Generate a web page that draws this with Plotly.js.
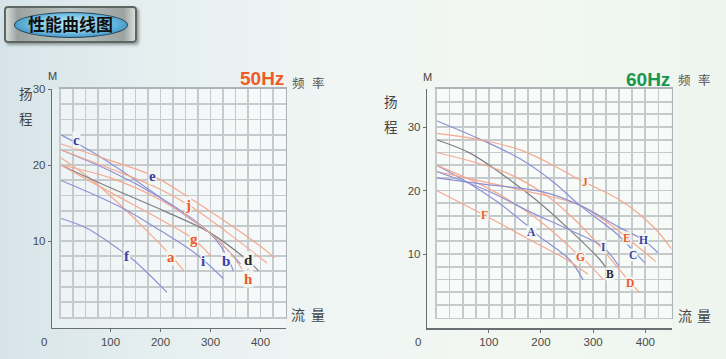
<!DOCTYPE html>
<html><head><meta charset="utf-8">
<script src="https://cdn.plot.ly/plotly-3.0.1.min.js"></script>
<style>
html,body{margin:0;padding:0;}
body{width:726px;height:359px;overflow:hidden;position:relative;
 background:linear-gradient(90deg,#d6e4e9 0%,#e6eff0 22%,#eff5f3 45%,#f2f7f2 70%,#eef5ef 100%);}
#chart{position:absolute;left:0;top:0;width:726px;height:359px;}
#badge{position:absolute;left:4px;top:6px;width:133px;height:37px;border-radius:4px;
 background:linear-gradient(90deg,#e4e9e7 0%,#9aa3a0 10%,#b9c1be 50%,#9aa3a0 90%,#e4e9e7 100%);
 box-shadow:inset 0 0 0 2px #5d6663, 2px 2px 3px rgba(0,0,0,0.35);z-index:2;}
#badge .ell{position:absolute;left:10px;top:6px;width:112px;height:24px;border-radius:50%;
 background:radial-gradient(ellipse at 50% 45%,#c8eefa 0%,#7cc6e6 45%,#2f86bd 85%,#1f5f8e 100%);border:1px solid #27475c;}
#badge .txt{position:absolute;left:0;top:0;width:133px;height:37px;line-height:36px;text-align:center;
 font-family:"Noto Sans CJK SC",sans-serif;font-weight:bold;font-size:17px;color:#111;}
</style></head>
<body>
<div id="chart"></div>
<div id="badge"><div class="ell"></div><div class="txt">性能曲线图</div></div>
<script>
// ---------- 50Hz data (flow, head) ----------
const a50_q=[0,60,122,175,205,247], a50_h=[21,18.2,14.6,11.2,9.2,6.1];
const b50_q=[0,100,200,260,296,322,346], b50_h=[22,19.2,15.7,13.1,11.2,9.2,6.1];
const c50_q=[0,40,79,146,206,260,296,330,360], c50_h=[24,22.6,21.1,18.2,15.4,12.9,11.2,9.1,7.0];
const d50_q=[0,100,209,296,366,396], d50_h=[20,17.0,13.9,11.2,7.9,6.1];
const e50_q=[0,90,184,260,340,400,428], e50_h=[22.8,20.8,18.6,15.6,12.1,9.3,7.8];
const f50_q=[0,52,119,146,213], f50_h=[13,11.7,8.8,7.5,3.25];
const g50_q=[0,100,209,267,301], g50_h=[20,16.4,12.5,10.2,8.0];
const h50_q=[0,100,200,296,340,363], h50_h=[20,18.3,15.4,11.2,8.4,6.3];
const i50_q=[0,119,199,273,325], i50_h=[18,14.5,11.4,8.2,5.1];
const j50_q=[0,100,190,255,330,413], j50_h=[22,19.5,17.1,14.8,11.3,7.1];
const labels50=['a','b','c','d','e','f','g','h','i','j'];
const labelQ50=[221,331,32,376,184,132,267,376,285,255];
const labelH50=[7.9,7.4,23.3,7.5,18.5,8.0,10.2,5.0,7.4,14.7];

// ---------- 60Hz data (flow, head) ----------
const A60_q=[0,51,115,172,195,255,281], A60_h=[24,21.7,18.3,14.6,12.9,9.1,5.9];
const B60_q=[0,64,127,191,255,313,325], B60_h=[28,25.9,22.5,18.5,13.8,9.1,7.8];
const C60_q=[0,83,160,226,274,345,376,399], C60_h=[31,28.1,25,21.2,17.7,13.2,10.6,8.6];
const D60_q=[0,128,204,260,310,364,389], D60_h=[26,23,19.6,15.8,11.5,6.2,3.9];
const E60_q=[0,100,200,274,330,364,420], E60_h=[23,21.2,19.4,17.7,14.8,12.6,8.8];
const F60_q=[0,92,191,250,290], F60_h=[20,16.1,11.7,9.1,6.8];
const G60_q=[0,100,180,230,262,287,319], G60_h=[24,20.3,16.3,13,10.6,8.8,6.0];
const H60_q=[0,89,204,274,350,396,424], H60_h=[22,21,19.8,17.7,14.2,12.2,10.2];
const I60_q=[0,100,180,260,319,350], I60_h=[23,19.9,16.6,13.6,11.1,8.0];
const J60_q=[0,83,160,223,274,351,415,450], J60_h=[29,28,26.4,24,21.7,18.5,14.3,10.8];
const labels60=['A','B','C','D','E','F','G','H','I','J'];
const labelQ60=[181,332,376.5,370,364,92.5,276,396,319,285];
const labelH60=[13.4,6.8,9.8,5.4,12.6,16.1,9.5,12.2,11.1,21.3];

const xTicks=[100,200,300,400];
const yTicks50=[10,20,30];
const yTicks60=[10,20,30];

// ---------- styles ----------
const ORG='#f0845e', BLU='#5c62c4', GRY='#4a4a4a';
const ORGt='#f05a28', BLUt='#3a3fa6', GRYt='#2a2a2a';
const kind50={a:'o',b:'b',c:'b',d:'g',e:'b',f:'b',g:'o',h:'o',i:'b',j:'o'};
const line50={a:'o',b:'b',c:'b',d:'g',e:'o',f:'b',g:'o',h:'o',i:'b',j:'o'};
const kind60={A:'b',B:'g',C:'b',D:'o',E:'o',F:'o',G:'o',H:'b',I:'b',J:'o'};
const lc={o:ORG,b:BLU,g:GRY}, tc={o:ORGt,b:BLUt,g:GRYt};

const series50={a:[a50_q,a50_h],b:[b50_q,b50_h],c:[c50_q,c50_h],d:[d50_q,d50_h],e:[e50_q,e50_h],
 f:[f50_q,f50_h],g:[g50_q,g50_h],h:[h50_q,h50_h],i:[i50_q,i50_h],j:[j50_q,j50_h]};
const series60={A:[A60_q,A60_h],B:[B60_q,B60_h],C:[C60_q,C60_h],D:[D60_q,D60_h],E:[E60_q,E60_h],
 F:[F60_q,F60_h],G:[G60_q,G60_h],H:[H60_q,H60_h],I:[I60_q,I60_h],J:[J60_q,J60_h]};

const traces=[];
for(const k of labels50){
  traces.push({x:series50[k][0],y:series50[k][1],xaxis:'x',yaxis:'y',mode:'lines',
    line:{color:lc[line50[k]],width:1.2,shape:'spline',smoothing:1},showlegend:false,hoverinfo:'skip'});
}
for(const k of labels60){
  traces.push({x:series60[k][0],y:series60[k][1],xaxis:'x2',yaxis:'y2',mode:'lines',
    line:{color:lc[kind60[k]],width:1.2,shape:'spline',smoothing:1},showlegend:false,hoverinfo:'skip'});
}
// helper traces for the offset axis lines
traces.push({x:[null],y:[null],xaxis:'x3',yaxis:'y3',mode:'lines',showlegend:false,hoverinfo:'skip'});
traces.push({x:[null],y:[null],xaxis:'x4',yaxis:'y4',mode:'lines',showlegend:false,hoverinfo:'skip'});

const W=726,H=359;
const fx=p=>p/W, fy=p=>1-p/H;
const step=(a,b,s)=>{const r=[];for(let v=a;v<=b+1e-9;v+=s)r.push(v);return r;};
const GRID='#adb3b8';
const gridAx=(dom,range,dt,anchor)=>({domain:dom,range:range,anchor:anchor,tickmode:'array',tickvals:step(range[0],range[1],dt),
  showticklabels:false,ticks:'',showgrid:true,gridcolor:GRID,gridwidth:1.8,zeroline:false,
  showline:true,mirror:true,linecolor:GRID,linewidth:1.8,fixedrange:true});
const lineAx=(dom,range,vals,anchor)=>({domain:dom,range:range,anchor:anchor,tickmode:'array',tickvals:vals,
  showgrid:false,zeroline:false,showline:true,linecolor:'#6a6f72',linewidth:1.2,ticks:'outside',ticklen:3,
  tickcolor:'#6a6f72',tickfont:{family:'Liberation Sans, Arial',size:11.5,color:'#4a4a4a'},fixedrange:true});

const ann=[];
function addLabels(names,qs,hs,kinds,xr,yr,font,size,bold){
  names.forEach((n,i)=>ann.push({x:qs[i],y:hs[i],xref:xr,yref:yr,text:bold?'<b>'+n+'</b>':n,showarrow:false,
    font:{family:font,size:size,color:tc[kinds[n]]},bgcolor:'#f1f6f3',borderpad:0}));
}
addLabels(labels50,labelQ50,labelH50,kind50,'x','y','Liberation Serif, Times New Roman',15,true);
addLabels(labels60,labelQ60,labelH60,kind60,'x2','y2','Liberation Serif, Times New Roman',11.5,true);

const txt=(t,x,y,size,color,bold,family)=>ann.push({text:bold?'<b>'+t+'</b>':t,x:fx(x),y:fy(y),xref:'paper',yref:'paper',
  showarrow:false,font:{size:size,color:color,family:family||'Noto Sans CJK SC, sans-serif'},xanchor:'center',yanchor:'middle'});
txt('50Hz',261.5,78,19,'#f05a28',true,'Liberation Sans, Arial');
txt('频',298,82,12.5,'#555');txt('率',318,82,12.5,'#555');
txt('60Hz',648,80,19,'#17964f',true,'Liberation Sans, Arial');
txt('频',684,80,12.5,'#555');txt('率',704,80,12.5,'#555');
txt('M',52,76,11,'#444',false,'Liberation Sans, Arial');
txt('M',427,77,11,'#444',false,'Liberation Sans, Arial');
txt('扬',26,93,13.5,'#444');txt('程',26,118,13.5,'#444');
txt('扬',391,101,13.5,'#444');txt('程',391,126,13.5,'#444');
txt('流',298,314,14,'#444');txt('量',318,314,14,'#444');
txt('流',685,315,14,'#444');txt('量',704,315,14,'#444');
txt('0',44,342,11.5,'#4a4a4a',false,'Liberation Sans, Arial');
txt('0',418,342,11.5,'#4a4a4a',false,'Liberation Sans, Arial');

const layout={width:W,height:H,margin:{l:0,r:0,t:0,b:0},paper_bgcolor:'rgba(0,0,0,0)',plot_bgcolor:'rgba(255,255,255,0.3)',
  showlegend:false,
  xaxis:gridAx([fx(60.5),fx(285.5)],[0,450],25,'y'),
  yaxis:gridAx([fy(317),fy(89)],[0,30],2,'x'),
  xaxis2:gridAx([fx(436.5),fx(671.5)],[0,450],25,'y2'),
  yaxis2:gridAx([fy(317.5),fy(89)],[0,36],2,'x2'),
  xaxis3:lineAx([fx(52),fx(286)],[-17.0,451.0],xTicks,'y3'),
  yaxis3:lineAx([fy(328),fy(89)],[-1.447,30],yTicks50,'x3'),
  xaxis4:lineAx([fx(427),fx(671.5)],[-18.2,450],xTicks,'y4'),
  yaxis4:lineAx([fy(328.3),fy(89)],[-1.70,36],yTicks60,'x4'),
  annotations:ann};
Plotly.newPlot('chart',traces,layout,{displayModeBar:false,staticPlot:true});
</script>
</body></html>
